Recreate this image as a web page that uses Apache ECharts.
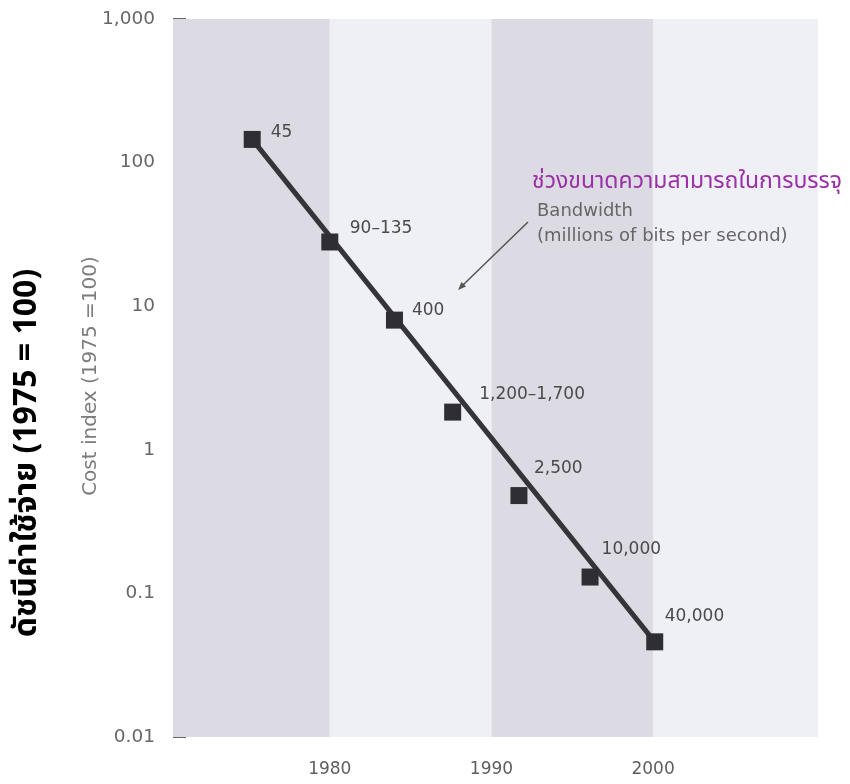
<!DOCTYPE html>
<html>
<head>
<meta charset="utf-8">
<script src="https://cdn.jsdelivr.net/npm/echarts@6/dist/echarts.min.js"></script>
<style>
html,body{margin:0;padding:0;background:#fff;}
#c{width:850px;height:784px;}
</style>
</head>
<body>
<div id="c"></div>
<script>
// ---- data ----
var years = [1975.2, 1980, 1984, 1987.6, 1991.7, 1996.1, 2000.1];
var costIndex = [145, 28, 8.0, 1.83, 0.48, 0.13, 0.046];
var bandwidthLabels = ['45', '90\u2013135', '400', '1,200\u20131,700', '2,500', '10,000', '40,000'];
var trendYears = [1975.2, 2000.1];
var trendCost = [145, 0.046];
var xTickYears = [1980, 1990, 2000];
var yTickLabels = ['0.01', '0.1', '1', '10', '100', '1,000'];
var bandStarts = [1970.3, 1980, 1990, 2000];
var bandEnds = [1980, 1990, 2000, 2010.2];

// ---- styling ----
var bandColors = ['#dcdbe3', '#efeff6', '#dcdbe3', '#efeff6'];
var labelNudge = [[10, -7], [11.5, -13.5], [9, -10], [18, -17.5], [6.5, -26.5], [3, -27.5], [1.5, -25]];
var thaiFont = "'Noto Sans Thai','Noto Sans Thai UI','Loma','Garuda','Tlwg Typo','Noto Sans',sans-serif";

var chart = echarts.init(document.getElementById('c'));

var pointData = years.map(function (y, i) {
  return {
    value: [y, costIndex[i]],
    label: { offset: labelNudge[i], formatter: bandwidthLabels[i] }
  };
});

var areas = bandStarts.map(function (s, i) {
  return [{ xAxis: s, itemStyle: { color: bandColors[i], opacity: 1 } }, { xAxis: bandEnds[i] }];
});

chart.setOption({
  animation: false,
  backgroundColor: '#ffffff',
  grid: { left: 173, right: 32, top: 19, bottom: 47, containLabel: false },
  xAxis: {
    type: 'value',
    min: 1970.3,
    max: 2010.2,
    axisLine: { show: false },
    axisTick: { show: false },
    splitLine: { show: false },
    axisLabel: {
      customValues: xTickYears,
      margin: 24,
      color: '#5e5e5e',
      fontFamily: 'DejaVu Sans',
      fontSize: 17,
      formatter: function (v) { return String(Math.round(v)); }
    }
  },
  yAxis: {
    type: 'log',
    logBase: 10,
    min: 0.01,
    max: 1000,
    axisLine: { show: false },
    splitLine: { show: false },
    axisTick: { show: true, inside: true, length: 13, lineStyle: { color: '#666', width: 2 } },
    axisLabel: {
      margin: 18,
      color: '#666',
      fontFamily: 'DejaVu Sans',
      fontSize: 18.5,
      formatter: function (v, idx) { return yTickLabels[idx]; }
    }
  },
  series: [
    {
      type: 'line',
      data: trendYears.map(function (y, i) { return [y, trendCost[i]]; }),
      showSymbol: false,
      lineStyle: { color: '#34343a', width: 5, opacity: 1 },
      z: 2,
      markArea: { silent: true, data: areas }
    },
    {
      type: 'scatter',
      data: pointData,
      symbol: 'rect',
      symbolSize: 17,
      itemStyle: { color: '#2e2e34', opacity: 1 },
      z: 3,
      label: {
        show: true,
        position: 'right',
        distance: 0,
        color: '#4a4a4a',
        fontFamily: 'DejaVu Sans',
        fontSize: 17
      }
    }
  ],
  graphic: [
    {
      type: 'text', z: 100,
      x: 30, y: 453, rotation: Math.PI / 2,
      style: {
        text: 'ดัชนีค่าใช้จ่าย (1975 = 100)',
        x: 0, y: 0, align: 'center', verticalAlign: 'middle',
        fill: '#000', font: 'bold 32px ' + thaiFont
      }
    },
    {
      type: 'text', z: 100,
      x: 91, y: 376, rotation: Math.PI / 2,
      style: {
        text: 'Cost index (1975 =100)',
        x: 0, y: 0, align: 'center', verticalAlign: 'middle',
        fill: '#7c7c7c', font: '20px DejaVu Sans'
      }
    },
    {
      type: 'text', z: 100,
      x: 532, y: 183,
      style: {
        text: 'ช่วงขนาดความสามารถในการบรรจุ',
        align: 'left', verticalAlign: 'middle',
        fill: '#9b2fa8', font: '23px ' + thaiFont
      }
    },
    {
      type: 'text', z: 100,
      x: 537, y: 211,
      style: {
        text: 'Bandwidth',
        align: 'left', verticalAlign: 'middle',
        fill: '#666', font: '18px DejaVu Sans'
      }
    },
    {
      type: 'text', z: 100,
      x: 537, y: 236,
      style: {
        text: '(millions of bits per second)',
        align: 'left', verticalAlign: 'middle',
        fill: '#666', font: '18px DejaVu Sans'
      }
    },
    {
      type: 'line', z: 100,
      shape: { x1: 528, y1: 222, x2: 463, y2: 285 },
      style: { stroke: '#555', lineWidth: 1.5 }
    },
    {
      type: 'polygon', z: 100,
      shape: { points: [[458, 290], [466, 286.5], [461.5, 282]] },
      style: { fill: '#555' }
    }
  ]
});
</script>
</body>
</html>
